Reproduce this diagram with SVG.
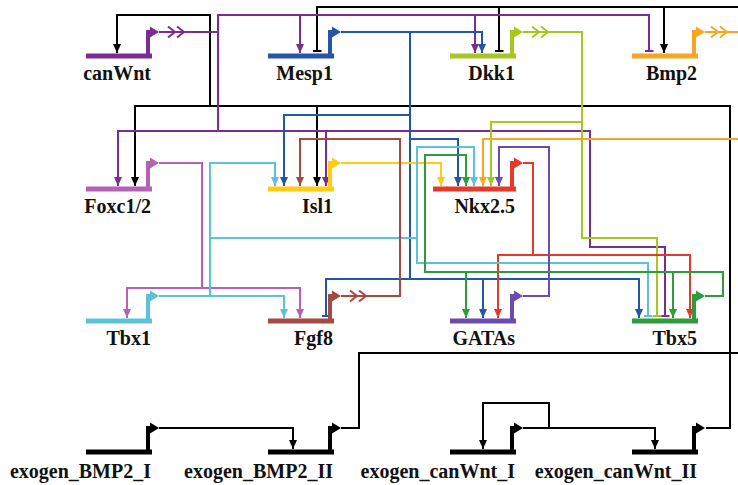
<svg xmlns="http://www.w3.org/2000/svg" width="738" height="485" viewBox="0 0 738 485">
<style>
.lnk{fill:none;stroke-width:2}
.prom{fill:none;stroke-width:4}
.chev{fill:none;stroke-width:2}
.lbl{font-family:"Liberation Serif","Times New Roman",serif;font-weight:bold;font-size:20px;text-anchor:end;fill:#111}
.s-k{stroke:#000}.f-k{fill:#000}
.s-pu{stroke:#7a2d91}.f-pu{fill:#7a2d91}
.s-bl{stroke:#2456a8}.f-bl{fill:#2456a8}
.s-yg{stroke:#a6c620}.f-yg{fill:#a6c620}
.s-or{stroke:#f5a623}.f-or{fill:#f5a623}
.s-oc{stroke:#b462b4}.f-oc{fill:#b462b4}
.s-go{stroke:#ffcc11}.f-go{fill:#ffcc11}
.s-rd{stroke:#e8372b}.f-rd{fill:#e8372b}
.s-cy{stroke:#5cc3d6}.f-cy{fill:#5cc3d6}
.s-br{stroke:#a54a42}.f-br{fill:#a54a42}
.s-sl{stroke:#6a4cae}.f-sl{fill:#6a4cae}
.s-gr{stroke:#2e9b3d}.f-gr{fill:#2e9b3d}
</style>
<defs>
<marker id="a-k" viewBox="0 0 9 8" refX="9" refY="4" markerWidth="9" markerHeight="8" markerUnits="userSpaceOnUse" orient="auto"><path d="M0,0 L9,4 L0,8 Z" class="f-k"/></marker>
<marker id="a-pu" viewBox="0 0 9 8" refX="9" refY="4" markerWidth="9" markerHeight="8" markerUnits="userSpaceOnUse" orient="auto"><path d="M0,0 L9,4 L0,8 Z" class="f-pu"/></marker>
<marker id="a-bl" viewBox="0 0 9 8" refX="9" refY="4" markerWidth="9" markerHeight="8" markerUnits="userSpaceOnUse" orient="auto"><path d="M0,0 L9,4 L0,8 Z" class="f-bl"/></marker>
<marker id="a-yg" viewBox="0 0 9 8" refX="9" refY="4" markerWidth="9" markerHeight="8" markerUnits="userSpaceOnUse" orient="auto"><path d="M0,0 L9,4 L0,8 Z" class="f-yg"/></marker>
<marker id="a-or" viewBox="0 0 9 8" refX="9" refY="4" markerWidth="9" markerHeight="8" markerUnits="userSpaceOnUse" orient="auto"><path d="M0,0 L9,4 L0,8 Z" class="f-or"/></marker>
<marker id="a-oc" viewBox="0 0 9 8" refX="9" refY="4" markerWidth="9" markerHeight="8" markerUnits="userSpaceOnUse" orient="auto"><path d="M0,0 L9,4 L0,8 Z" class="f-oc"/></marker>
<marker id="a-go" viewBox="0 0 9 8" refX="9" refY="4" markerWidth="9" markerHeight="8" markerUnits="userSpaceOnUse" orient="auto"><path d="M0,0 L9,4 L0,8 Z" class="f-go"/></marker>
<marker id="a-rd" viewBox="0 0 9 8" refX="9" refY="4" markerWidth="9" markerHeight="8" markerUnits="userSpaceOnUse" orient="auto"><path d="M0,0 L9,4 L0,8 Z" class="f-rd"/></marker>
<marker id="a-cy" viewBox="0 0 9 8" refX="9" refY="4" markerWidth="9" markerHeight="8" markerUnits="userSpaceOnUse" orient="auto"><path d="M0,0 L9,4 L0,8 Z" class="f-cy"/></marker>
<marker id="a-br" viewBox="0 0 9 8" refX="9" refY="4" markerWidth="9" markerHeight="8" markerUnits="userSpaceOnUse" orient="auto"><path d="M0,0 L9,4 L0,8 Z" class="f-br"/></marker>
<marker id="a-sl" viewBox="0 0 9 8" refX="9" refY="4" markerWidth="9" markerHeight="8" markerUnits="userSpaceOnUse" orient="auto"><path d="M0,0 L9,4 L0,8 Z" class="f-sl"/></marker>
<marker id="a-gr" viewBox="0 0 9 8" refX="9" refY="4" markerWidth="9" markerHeight="8" markerUnits="userSpaceOnUse" orient="auto"><path d="M0,0 L9,4 L0,8 Z" class="f-gr"/></marker>
<marker id="b-k" viewBox="0 0 2 9" refX="1" refY="4.5" markerWidth="2" markerHeight="9" markerUnits="userSpaceOnUse" orient="auto"><rect width="2" height="9" class="f-k"/></marker>
<marker id="b-pu" viewBox="0 0 2 9" refX="1" refY="4.5" markerWidth="2" markerHeight="9" markerUnits="userSpaceOnUse" orient="auto"><rect width="2" height="9" class="f-pu"/></marker>
<marker id="b-bl" viewBox="0 0 2 9" refX="1" refY="4.5" markerWidth="2" markerHeight="9" markerUnits="userSpaceOnUse" orient="auto"><rect width="2" height="9" class="f-bl"/></marker>
<marker id="b-yg" viewBox="0 0 2 9" refX="1" refY="4.5" markerWidth="2" markerHeight="9" markerUnits="userSpaceOnUse" orient="auto"><rect width="2" height="9" class="f-yg"/></marker>
<marker id="b-cy" viewBox="0 0 2 9" refX="1" refY="4.5" markerWidth="2" markerHeight="9" markerUnits="userSpaceOnUse" orient="auto"><rect width="2" height="9" class="f-cy"/></marker>
<path id="chev" d="M0,-5.5 L7,0 L0,5.5 M9,-5.5 L16,0 L9,5.5"/>
</defs>
<rect width="738" height="485" fill="#fff"/>

<g id="connectors">
<!-- black: exogenous inputs -->
<path class="lnk s-k" d="M706,428 H730 V106 H135 V186" marker-end="url(#a-k)"/>
<path class="lnk s-k" d="M210,106 V15 H117 V53" marker-end="url(#a-k)"/>
<path class="lnk s-k" d="M317,106 V186" marker-end="url(#a-k)"/>
<path class="lnk s-k" d="M738,7 H317 V51" marker-end="url(#b-k)"/>
<path class="lnk s-k" d="M499,7 V51" marker-end="url(#b-k)"/>
<path class="lnk s-k" d="M664,7 V53" marker-end="url(#a-k)"/>
<path class="lnk s-k" d="M341,428 H359 V353 H738"/>
<path class="lnk s-k" d="M159,428 H293 V449" marker-end="url(#a-k)"/>
<path class="lnk s-k" d="M523,428 H655 V449" marker-end="url(#a-k)"/>
<path class="lnk s-k" d="M549,428 V403 H483 V449" marker-end="url(#a-k)"/>
<!-- canWnt -->
<path class="lnk s-pu" d="M159,32 H218"/>
<path class="lnk s-pu" d="M218,131 V15 H649 V51" marker-end="url(#b-pu)"/>
<path class="lnk s-pu" d="M300,15 V53" marker-end="url(#a-pu)"/>
<path class="lnk s-pu" d="M475,15 V53" marker-end="url(#a-pu)"/>
<path class="lnk s-pu" d="M218,131 H118 V186" marker-end="url(#a-pu)"/>
<path class="lnk s-pu" d="M218,131 H590 V247 H665 V316" marker-end="url(#b-pu)"/>
<path class="lnk s-pu" d="M326,131 V186" marker-end="url(#a-pu)"/>
<!-- Mesp1 -->
<path class="lnk s-bl" d="M341,32 H482 V53" marker-end="url(#a-bl)"/>
<path class="lnk s-bl" d="M410,32 V279 H639 V318" marker-end="url(#a-bl)"/>
<path class="lnk s-bl" d="M410,115 H284 V186" marker-end="url(#a-bl)"/>
<path class="lnk s-bl" d="M410,139 H458 V186" marker-end="url(#a-bl)"/>
<path class="lnk s-bl" d="M410,279 H326 V316" marker-end="url(#b-bl)"/>
<path class="lnk s-bl" d="M483,279 V318" marker-end="url(#a-bl)"/>
<!-- Dkk1 -->
<path class="lnk s-yg" d="M523,32 H582 V238 H657 V316" marker-end="url(#b-yg)"/>
<path class="lnk s-yg" d="M582,122 H491 V186" marker-end="url(#a-yg)"/>
<!-- Bmp2 -->
<path class="lnk s-or" d="M705,32 H738"/>
<path class="lnk s-or" d="M738,139 H483 V186" marker-end="url(#a-or)"/>
<!-- Foxc1/2 -->
<path class="lnk s-oc" d="M159,163 H202 V288 H127 V318" marker-end="url(#a-oc)"/>
<path class="lnk s-oc" d="M202,288 H300 V318" marker-end="url(#a-oc)"/>
<!-- Isl1 -->
<path class="lnk s-go" d="M341,163 H441 V186" marker-end="url(#a-go)"/>
<!-- Nkx2.5 -->
<path class="lnk s-rd" d="M523,163 H533 V255 H690 V318" marker-end="url(#a-rd)"/>
<path class="lnk s-rd" d="M533,255 H498 V318" marker-end="url(#a-rd)"/>
<!-- Tbx1 -->
<path class="lnk s-cy" d="M159,296 H284 V318" marker-end="url(#a-cy)"/>
<path class="lnk s-cy" d="M210,296 V163 H275 V186" marker-end="url(#a-cy)"/>
<path class="lnk s-cy" d="M210,238 H417 V263 H648 V316" marker-end="url(#b-cy)"/>
<path class="lnk s-cy" d="M417,238 V147 H474 V186" marker-end="url(#a-cy)"/>
<!-- Fgf8 -->
<path class="lnk s-br" d="M341,296 H400 V139 H300 V186" marker-end="url(#a-br)"/>
<!-- GATAs -->
<path class="lnk s-sl" d="M523,296 H549 V147 H499 V186" marker-end="url(#a-sl)"/>
<!-- Tbx5 -->
<path class="lnk s-gr" d="M705,296 H723 V272 H425 V155 H466 V186" marker-end="url(#a-gr)"/>
<path class="lnk s-gr" d="M466,272 V318" marker-end="url(#a-gr)"/>
<path class="lnk s-gr" d="M673,272 V318" marker-end="url(#a-gr)"/>
</g>

<g id="canWnt">
<rect class="f-pu" x="86" y="53.5" width="66" height="5"/>
<path class="prom s-pu" d="M148,56 V32 H151"/>
<path class="f-pu" d="M150,26.5 L159,32 L150,37.5 Z"/>
<use href="#chev" class="chev s-pu" transform="translate(168,32)"/>
<text class="lbl" x="151" y="80">canWnt</text>
</g>
<g id="Mesp1">
<rect class="f-bl" x="268" y="53.5" width="66" height="5"/>
<path class="prom s-bl" d="M330,56 V32 H333"/>
<path class="f-bl" d="M332,26.5 L341,32 L332,37.5 Z"/>
<text class="lbl" x="333" y="80">Mesp1</text>
</g>
<g id="Dkk1">
<rect class="f-yg" x="450" y="53.5" width="66" height="5"/>
<path class="prom s-yg" d="M512,56 V32 H515"/>
<path class="f-yg" d="M514,26.5 L523,32 L514,37.5 Z"/>
<use href="#chev" class="chev s-yg" transform="translate(532,32)"/>
<text class="lbl" x="515" y="80">Dkk1</text>
</g>
<g id="Bmp2">
<rect class="f-or" x="632" y="53.5" width="66" height="5"/>
<path class="prom s-or" d="M694,56 V32 H697"/>
<path class="f-or" d="M696,26.5 L705,32 L696,37.5 Z"/>
<use href="#chev" class="chev s-or" transform="translate(711,32)"/>
<text class="lbl" x="697" y="80">Bmp2</text>
</g>

<g id="Foxc1-2">
<rect class="f-oc" x="86" y="186.5" width="66" height="5"/>
<path class="prom s-oc" d="M148,189 V163 H151"/>
<path class="f-oc" d="M150,157.5 L159,163 L150,168.5 Z"/>
<text class="lbl" x="151" y="212.5">Foxc1/2</text>
</g>
<g id="Isl1">
<rect class="f-go" x="268" y="186.5" width="66" height="5"/>
<path class="prom s-go" d="M330,189 V163 H333"/>
<path class="f-go" d="M332,157.5 L341,163 L332,168.5 Z"/>
<text class="lbl" x="333" y="212.5">Isl1</text>
</g>
<g id="Nkx2.5">
<rect class="f-rd" x="433" y="186.5" width="83" height="5"/>
<path class="prom s-rd" d="M512,189 V163 H515"/>
<path class="f-rd" d="M514,157.5 L523,163 L514,168.5 Z"/>
<text class="lbl" x="515" y="212.5">Nkx2.5</text>
</g>

<g id="Tbx1">
<rect class="f-cy" x="86" y="318.5" width="66" height="5"/>
<path class="prom s-cy" d="M148,321 V296 H151"/>
<path class="f-cy" d="M150,290.5 L159,296 L150,301.5 Z"/>
<text class="lbl" x="151" y="345">Tbx1</text>
</g>
<g id="Fgf8">
<rect class="f-br" x="268" y="318.5" width="66" height="5"/>
<path class="prom s-br" d="M330,321 V296 H333"/>
<path class="f-br" d="M332,290.5 L341,296 L332,301.5 Z"/>
<use href="#chev" class="chev s-br" transform="translate(350,296)"/>
<text class="lbl" x="333" y="345">Fgf8</text>
</g>
<g id="GATAs">
<rect class="f-sl" x="450" y="318.5" width="66" height="5"/>
<path class="prom s-sl" d="M512,321 V296 H515"/>
<path class="f-sl" d="M514,290.5 L523,296 L514,301.5 Z"/>
<text class="lbl" x="515" y="345">GATAs</text>
</g>
<g id="Tbx5">
<rect class="f-gr" x="632" y="318.5" width="66" height="5"/>
<path class="prom s-gr" d="M694,321 V296 H697"/>
<path class="f-gr" d="M696,290.5 L705,296 L696,301.5 Z"/>
<text class="lbl" x="697" y="345">Tbx5</text>
</g>

<g id="exogen_BMP2_I">
<rect class="f-k" x="86" y="449.5" width="66" height="5"/>
<path class="prom s-k" d="M148,452 V428 H151"/>
<path class="f-k" d="M150,422.5 L159,428 L150,433.5 Z"/>
<text class="lbl" x="151" y="478">exogen_BMP2_I</text>
</g>
<g id="exogen_BMP2_II">
<rect class="f-k" x="268" y="449.5" width="66" height="5"/>
<path class="prom s-k" d="M330,452 V428 H333"/>
<path class="f-k" d="M332,422.5 L341,428 L332,433.5 Z"/>
<text class="lbl" x="333" y="478">exogen_BMP2_II</text>
</g>
<g id="exogen_canWnt_I">
<rect class="f-k" x="450" y="449.5" width="66" height="5"/>
<path class="prom s-k" d="M512,452 V428 H515"/>
<path class="f-k" d="M514,422.5 L523,428 L514,433.5 Z"/>
<text class="lbl" x="515" y="478">exogen_canWnt_I</text>
</g>
<g id="exogen_canWnt_II">
<rect class="f-k" x="632" y="449.5" width="66" height="5"/>
<path class="prom s-k" d="M694,452 V428 H697"/>
<path class="f-k" d="M696,422.5 L705,428 L696,433.5 Z"/>
<text class="lbl" x="697" y="478">exogen_canWnt_II</text>
</g>
</svg>
